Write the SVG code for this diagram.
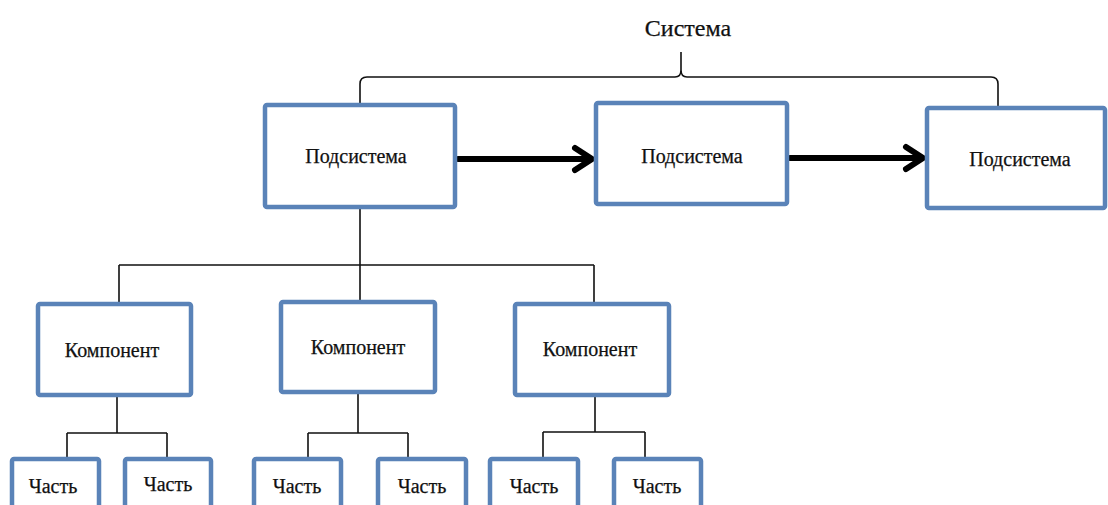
<svg xmlns="http://www.w3.org/2000/svg" width="1108" height="505" viewBox="0 0 1108 505">
<style>
.box{fill:#fff;stroke:#5a83b8;stroke-width:4.5;}
.t{font-family:"Liberation Serif","Times New Roman",serif;font-size:20px;fill:#111;stroke:#111;stroke-width:0.25;text-anchor:middle;}
.ln{fill:none;stroke:#111;stroke-width:1.6;}
.ar{fill:none;stroke:#000;stroke-width:6;stroke-linecap:round;stroke-linejoin:round;}
</style>
<rect width="1108" height="505" fill="#fff"/>
<g id="connectors">
<path class="ln" d="M360,103 V84 Q360,77 367,77 H675 Q681,77 681,70 V52 M681,70 Q681,77 687,77 H991 Q998,77 998,84 V108"/>
<path class="ln" d="M360,209 V265 M119,265 H594 M119,265 V304 M360,265 V302 M594,265 V304"/>
<path class="ln" d="M117,397 V433 M67,433 H167 M67,433 V459 M167,433 V459"/>
<path class="ln" d="M358,394 V433 M308,433 H408 M308,433 V459 M408,433 V459"/>
<path class="ln" d="M595,397 V432 M543,432 H645 M543,432 V459 M645,432 V459"/>
<path class="ar" d="M458,159 H591 M575,148 L592,159 L575,170"/>
<path class="ar" d="M790,158 H922 M906,147 L923,158 L906,169"/>
</g>
<g id="sistema"><text class="t" x="688" y="36" style="font-size:24px">Система</text></g>
<g id="sub1"><rect class="box" x="265" y="105" width="190" height="102" rx="2"/><text class="t" x="356" y="163">Подсистема</text></g>
<g id="sub2"><rect class="box" x="596" y="103" width="191" height="101" rx="2"/><text class="t" x="692" y="163">Подсистема</text></g>
<g id="sub3"><rect class="box" x="927" y="108" width="178" height="100" rx="2"/><text class="t" x="1020" y="166">Подсистема</text></g>
<g id="comp1"><rect class="box" x="38" y="304" width="153" height="91" rx="2"/><text class="t" x="112" y="357">Компонент</text></g>
<g id="comp2"><rect class="box" x="281" y="302" width="154" height="90" rx="2"/><text class="t" x="358" y="354">Компонент</text></g>
<g id="comp3"><rect class="box" x="515" y="304" width="154" height="91" rx="2"/><text class="t" x="590" y="356">Компонент</text></g>
<g id="part1"><rect class="box" x="12" y="459" width="87" height="60" rx="2"/><text class="t" x="53" y="493">Часть</text></g>
<g id="part2"><rect class="box" x="125" y="459" width="86" height="60" rx="2"/><text class="t" x="168" y="491">Часть</text></g>
<g id="part3"><rect class="box" x="254" y="459" width="87" height="60" rx="2"/><text class="t" x="297" y="493">Часть</text></g>
<g id="part4"><rect class="box" x="378" y="459" width="88" height="60" rx="2"/><text class="t" x="422" y="493">Часть</text></g>
<g id="part5"><rect class="box" x="490" y="459" width="88" height="60" rx="2"/><text class="t" x="534" y="493">Часть</text></g>
<g id="part6"><rect class="box" x="614" y="459" width="87" height="60" rx="2"/><text class="t" x="657" y="493">Часть</text></g>
</svg>
